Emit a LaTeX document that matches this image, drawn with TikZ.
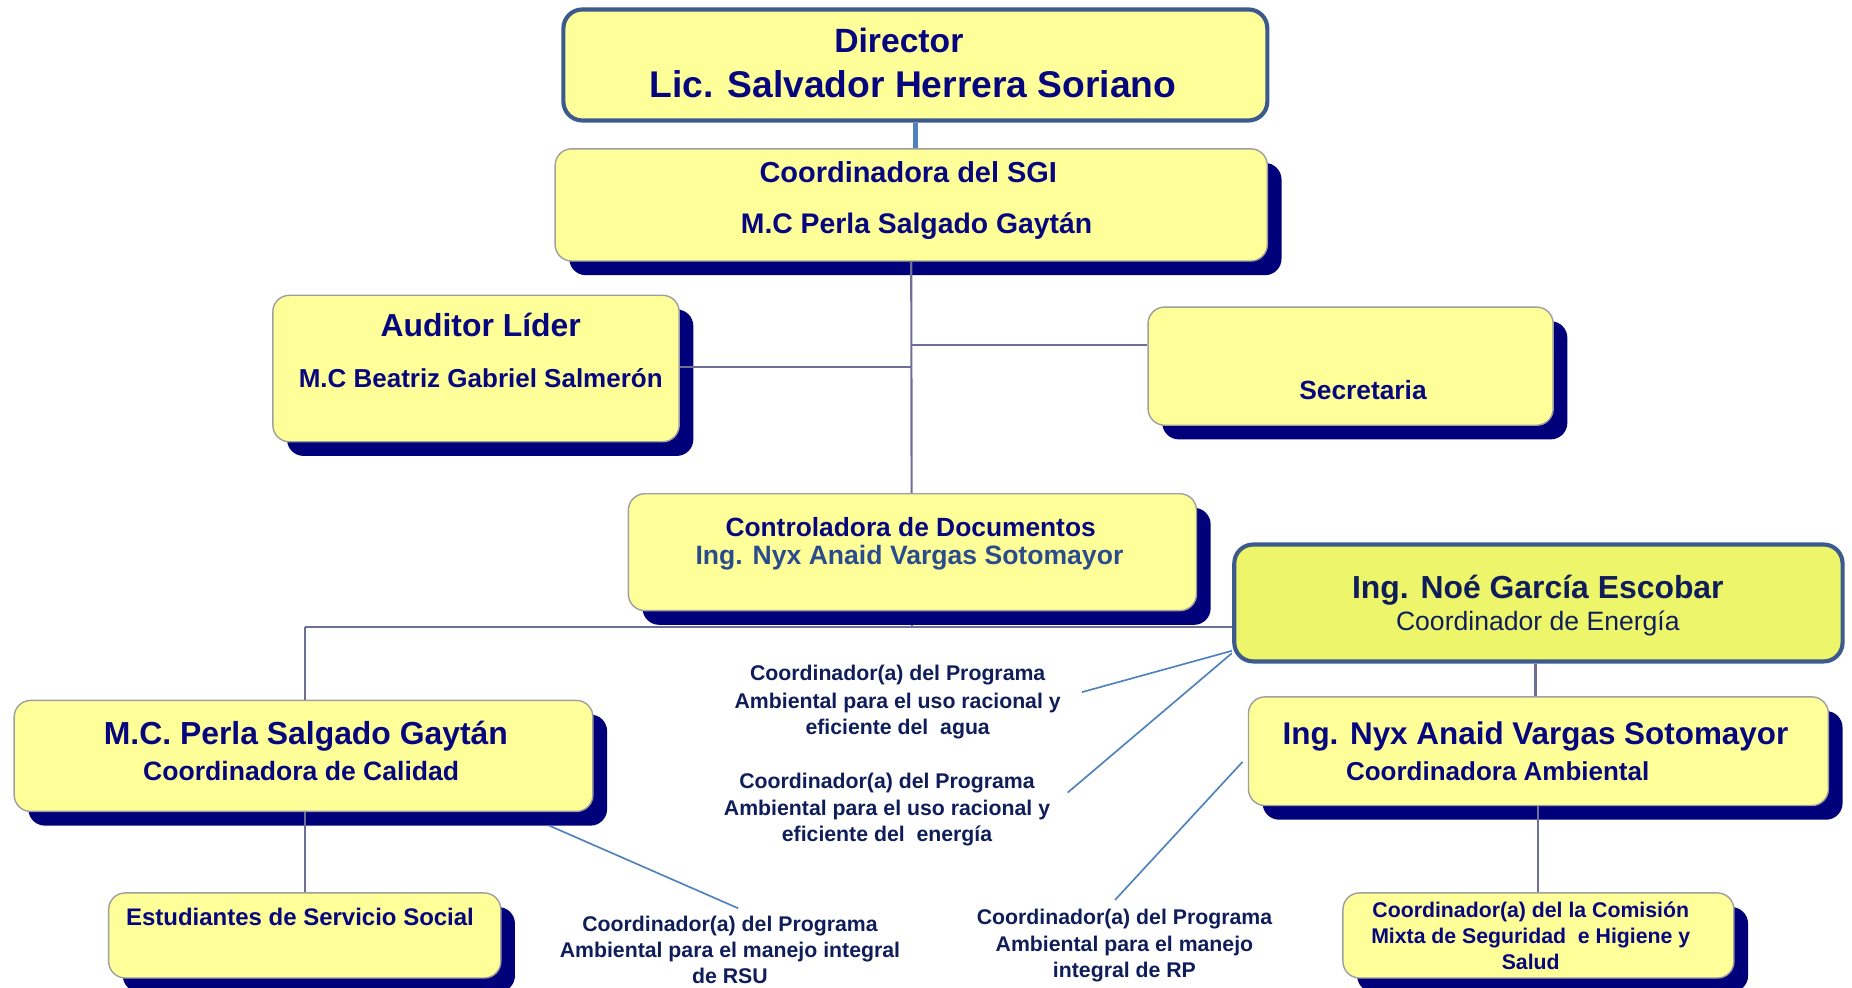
\documentclass[tikz,border=0pt]{standalone}
\usepackage{fontspec}
\setmainfont{Liberation Sans}
\usetikzlibrary{shadows}
\definecolor{boxfill}{HTML}{FFFF99}
\definecolor{noefill}{HTML}{EDF66B}
\definecolor{navytext}{HTML}{06067E}
\definecolor{shadownavy}{HTML}{00007A}
\definecolor{framecol}{HTML}{3C5A8C}
\definecolor{conn}{HTML}{6E6E96}
\definecolor{bluel}{HTML}{4F81BD}
\definecolor{steel}{HTML}{2B4C8C}
\definecolor{lblcol}{HTML}{0F1E5A}
\newcommand\fz[1]{\fontsize{#1}{#1}\selectfont}
\begin{document}
\begin{tikzpicture}[x=1pt,y=-1pt,
  sbox/.style={draw=gray!75, line width=1.2pt, fill=boxfill, rounded corners=14pt,
    drop shadow={shadow xshift=12pt,shadow yshift=-12pt,fill=shadownavy,opacity=1},
    inner sep=0pt},
  tbox/.style={draw=framecol, line width=3.5pt, rounded corners=16pt, inner sep=0pt},
  txt/.style={anchor=base, inner sep=0pt, text=navytext},
  lbl/.style={anchor=base, inner sep=0pt, text=lblcol, font=\fz{18}\bfseries},
  conline/.style={draw=conn, line width=1.8pt},
  blueline/.style={draw=bluel, line width=1.4pt}]
\useasboundingbox[fill=white] (0,0) rectangle (1568,836);

% trunk connectors (behind boxes)
\coordinate (trunkbot) at (772,531);
\coordinate (leftbot) at (258,531);
\coordinate (audj) at (772,311);
\coordinate (secj) at (772,292);

% boxes
\node[tbox, fill=boxfill, minimum width=596pt, minimum height=94pt] (dir) at (775,55) {};
\node[sbox, minimum width=603pt, minimum height=95pt] (sgi) at (771.5,173.5) {};
\draw[conline] (sgi.south) -- (trunkbot);
\draw[conline] (leftbot) -- (trunkbot);
\node[sbox, minimum width=344pt, minimum height=124pt] (aud) at (403,312) {};
\node[sbox, minimum width=343pt, minimum height=100pt] (sec) at (1143.5,310) {};
\node[sbox, minimum width=481pt, minimum height=99pt] (ctl) at (772.5,467.5) {};
\node[tbox, fill=noefill, minimum width=515pt, minimum height=99pt] (noe) at (1302.5,510.5) {};
\node[sbox, minimum width=491pt, minimum height=92pt] (amb) at (1302.5,636) {};
\node[sbox, minimum width=490pt, minimum height=94pt] (cal) at (257,640) {};
\node[sbox, minimum width=332pt, minimum height=72pt] (est) at (258,792) {};
\node[sbox, minimum width=331pt, minimum height=72pt] (com) at (1302.5,792) {};

% connectors
\draw[draw=bluel, line width=4pt] (dir.south) -- (sgi.north -| dir.south);
\draw[conline] (audj) -- (aud.east |- audj);
\draw[conline] (secj) -- (sec.west |- secj);
\draw[conline] (trunkbot) -- (noe.west |- trunkbot);
\draw[conline] (leftbot) -- (cal.north -| leftbot);
\draw[conline] (cal.south -| leftbot) -- (est.north -| leftbot);
\draw[conline] (noe.south -| 1300,0) -- (amb.north -| 1300,0);
\draw[conline] (amb.south) -- (com.north);

% texts in boxes
\node[txt, font=\fz{28.5}\bfseries] (dirt1) at (761,44.3) {Director};
\node[txt, font=\fz{31.5}\bfseries] (dirt2) at (773,82.3) {Lic. Salvador Herrera Soriano};
\node[txt, font=\fz{24.5}\bfseries] (sgit1) at (769,154.8) {Coordinadora del SGI};
\node[txt, font=\fz{24}\bfseries] (sgit2) at (776,197.6) {M.C Perla Salgado Gaytán};
\node[txt, font=\fz{27}\bfseries] (audt1) at (407,284.7) {Auditor Líder};
\node[txt, font=\fz{22}\bfseries] (audt2) at (407,327.9) {M.C Beatriz Gabriel Salmerón};
\node[txt, font=\fz{22.3}\bfseries] (sect) at (1154,338) {Secretaria};
\node[txt, font=\fz{22.3}\bfseries] (ctlt1) at (771,454) {Controladora de Documentos};
\node[txt, font=\fz{22.5}\bfseries, text=steel] (ctlt2) at (770,478.1) {Ing. Nyx Anaid Vargas Sotomayor};
\node[txt, font=\fz{27}\bfseries, text=lblcol] (noet1) at (1302,506.7) {Ing. Noé García Escobar};
\node[txt, font=\fz{22.5}, text=lblcol] (noet2) at (1302,534.1) {Coordinador de Energía};
\node[txt, font=\fz{26.6}\bfseries] (ambt1) at (1300,630.6) {Ing. Nyx Anaid Vargas Sotomayor};
\node[txt, font=\fz{22}\bfseries] (ambt2) at (1268,660.9) {Coordinadora Ambiental};
\node[txt, font=\fz{27}\bfseries] (calt1) at (259,630.7) {M.C. Perla Salgado Gaytán};
\node[txt, font=\fz{22.5}\bfseries] (calt2) at (255,661.1) {Coordinadora de Calidad};
\node[txt, font=\fz{20.3}\bfseries] (estt) at (254,783.3) {Estudiantes de Servicio Social};
\node[txt, font=\fz{18}\bfseries] (comt1) at (1296,776.5) {Coordinador(a) del la Comisión};
\node[txt, font=\fz{18}\bfseries] (comt2) at (1296,798.5) {Mixta de Seguridad\ \ e Higiene y};
\node[txt, font=\fz{18}\bfseries] (comt3) at (1296,820.5) {Salud};

% free labels
\node[lbl] (agua1) at (760,576.5) {Coordinador(a) del Programa};
\node[lbl] (agua2) at (760,599.5) {Ambiental para el uso racional y};
\node[lbl] (agua3) at (760,621.5) {eficiente del\ \ agua};
\node[lbl] (ener1) at (751,667.5) {Coordinador(a) del Programa};
\node[lbl] (ener2) at (751,690.5) {Ambiental para el uso racional y};
\node[lbl] (ener3) at (751,712.5) {eficiente del\ \ energía};
\node[lbl] (rsu1) at (618,788.5) {Coordinador(a) del Programa};
\node[lbl] (rsu2) at (618,810.5) {Ambiental para el manejo integral};
\node[lbl] (rsu3) at (618,832.5) {de RSU};
\node[lbl] (rp1) at (952,782.5) {Coordinador(a) del Programa};
\node[lbl] (rp2) at (952,805.5) {Ambiental para el manejo};
\node[lbl] (rp3) at (952,827.5) {integral de RP};

% blue leader lines
\coordinate (aguaend) at (916,586);
\coordinate (enerend) at (904,671);
\coordinate (rsuend) at (625,769);
\coordinate (rpend) at (944,762);
\coordinate (noec1) at (1043,551);
\coordinate (noec2) at (1043,553);
\coordinate (calc1) at (465,699);
\coordinate (ambc1) at (1052,645);
\draw[blueline] (aguaend) -- (noec1);
\draw[blueline] (enerend) -- (noec2);
\draw[blueline] (calc1) -- (rsuend);
\draw[blueline] (rpend) -- (ambc1);
\end{tikzpicture}
\end{document}
